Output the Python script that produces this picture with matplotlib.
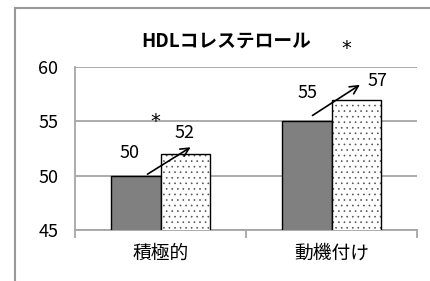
import matplotlib

matplotlib.use("Agg")
import matplotlib.pyplot as plt
import numpy as np
from matplotlib.lines import Line2D

plt.rcParams["font.family"] = ["Noto Sans CJK JP", "DejaVu Sans"]
plt.rcParams["hatch.linewidth"] = 0.45

TITLE = "HDLコレステロール"
CATEGORIES = ["積極的", "動機付け"]
BEFORE = [50, 55]
AFTER = [52, 57]

# manually placed data labels (data coords), as in the original
LABEL_X = [-0.18, 0.14, 0.86, 1.27]
LABEL_Y = [52.1, 53.9, 57.6, 58.7]
LABEL_TEXT = ["50", "52", "55", "57"]

# arrows: (x0, y0) -> (x1, y1)
ARROW_START = [(-0.09, 50.0), (0.875, 55.4)]
ARROW_END = [(0.19, 52.75), (1.18, 58.5)]

# significance markers
STAR_X = [-0.03, 1.085]
STAR_Y = [55.0, 61.7]

GRID = "#a6a6a6"

fig = plt.figure(figsize=(4.30, 2.81), dpi=100)
ax = fig.add_axes([75 / 430, 1 - 230 / 281, 342 / 430, 163 / 281])

x = np.arange(len(CATEGORIES))
w = 0.287
ax.bar(x - w / 2, BEFORE, width=w, color="#808080", edgecolor="black",
       linewidth=1.0, zorder=3)
# dotted fill first (hatch takes the edge colour), then a black outline
ax.bar(x + w / 2, AFTER, width=w, color="white", edgecolor="#505050",
       linewidth=0, hatch="...", zorder=3)
ax.bar(x + w / 2, AFTER, width=w, fill=False, edgecolor="black",
       linewidth=1.0, zorder=4)

ax.set_ylim(45, 60)
ax.set_xlim(-0.5, 1.5)
ax.set_yticks([45, 50, 55, 60])
ax.yaxis.grid(True, color=GRID, linewidth=1.3, zorder=0)

# category ticks at the boundaries, labels at the centres
ax.set_xticks([-0.5, 0.5, 1.5])
ax.set_xticklabels([])
ax.set_xticks(x, minor=True)
ax.set_xticklabels(CATEGORIES, minor=True, fontsize=13.5)
ax.tick_params(axis="x", which="major", length=6, color=GRID, width=1.3)
ax.tick_params(axis="x", which="minor", length=0, pad=9)
ax.tick_params(axis="y", length=0, labelsize=13, pad=12)

for s in ["top", "right"]:
    ax.spines[s].set_visible(False)
for s in ["left", "bottom"]:
    ax.spines[s].set_color(GRID)
    ax.spines[s].set_linewidth(1.3)

for tx, ty, t in zip(LABEL_X, LABEL_Y, LABEL_TEXT):
    ax.text(tx, ty, t, ha="center", va="center", fontsize=13, zorder=5)

for (x0, y0), (x1, y1) in zip(ARROW_START, ARROW_END):
    ax.annotate("", xy=(x1, y1), xytext=(x0, y0),
                arrowprops=dict(arrowstyle="->", color="black", lw=1.2,
                                mutation_scale=15),
                zorder=6, annotation_clip=False)

for sx, sy in zip(STAR_X, STAR_Y):
    ax.text(sx, sy, "*", ha="center", va="center", fontsize=14,
            family="DejaVu Sans", zorder=5)

fig.text(226 / 430, 1 - 41 / 281, TITLE, ha="center", va="center",
         fontsize=13.5, fontweight="bold")

# outer chart frame (left and top edges visible)
fig.add_artist(Line2D([14.5 / 430, 14.5 / 430], [0, 1 - 7.5 / 281],
                      color="#999999", linewidth=1.5))
fig.add_artist(Line2D([14.5 / 430, 1], [1 - 7.5 / 281, 1 - 7.5 / 281],
                      color="#999999", linewidth=1.5))

fig.savefig("out.png", dpi=100)
